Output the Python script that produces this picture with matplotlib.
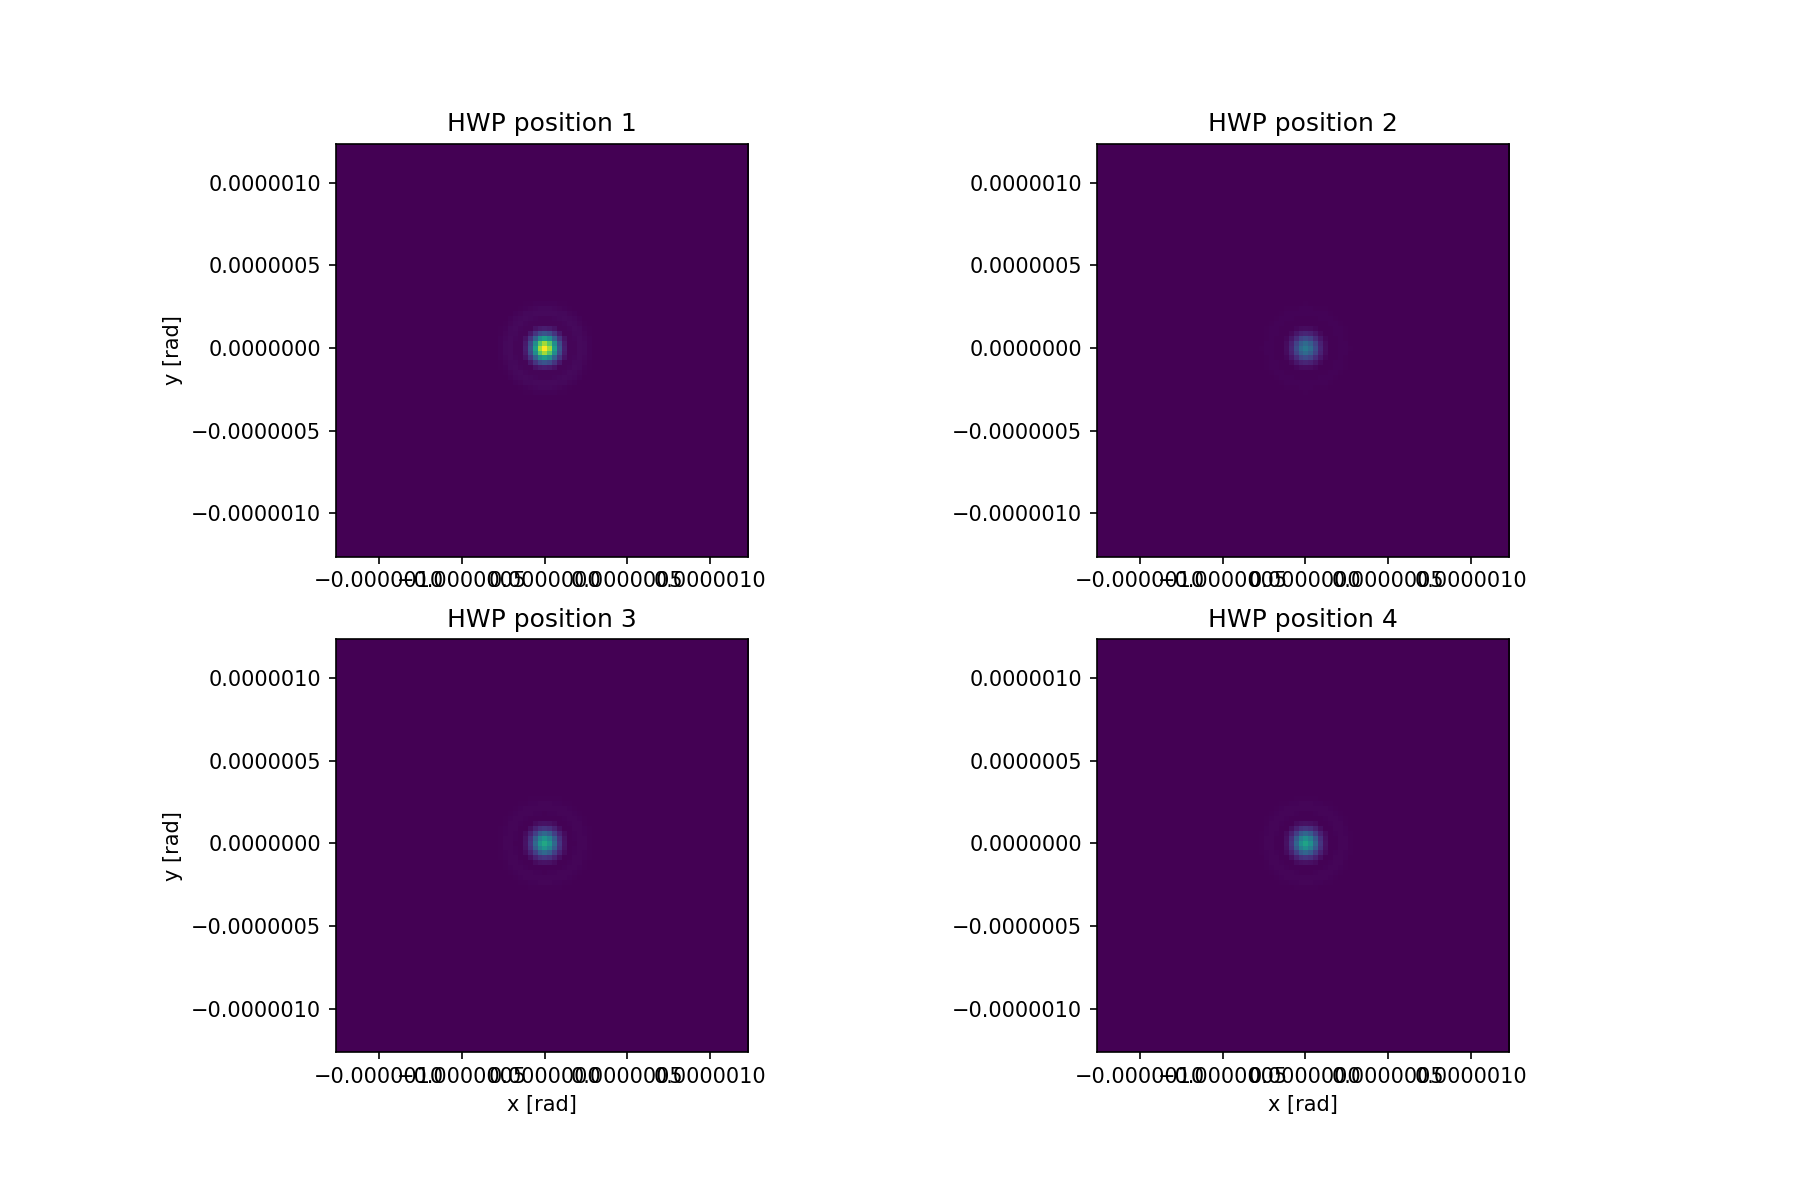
import matplotlib
matplotlib.use('Agg')
import matplotlib.pyplot as plt
import numpy as np

# panel titles and relative peak intensity (shared colour scale)
titles = ['HWP position 1', 'HWP position 2', 'HWP position 3', 'HWP position 4']
peaks = [1.0, 0.40, 0.60, 0.58]

# radial profile of the spot (radius in image pixels)
radius_px = [0, 1, 2, 3, 4, 5, 6, 7, 8, 9, 10, 12]
profile = [1.0, 0.86, 0.56, 0.26, 0.08, 0.012, 0.012, 0.025, 0.022, 0.01, 0.003, 0.0]

# image grid
npix = 84
half_width = 1.25e-6  # rad
dx = 2 * half_width / npix

idx = np.arange(npix) - npix // 2
ii, jj = np.meshgrid(idx, idx)
rr = np.hypot(ii, jj)
spot = np.interp(rr, radius_px, profile)

ext = [(-npix // 2 - 0.5) * dx, (npix // 2 - 0.5) * dx,
       (-npix // 2 - 0.5) * dx, (npix // 2 - 0.5) * dx]

fig, ax = plt.subplots(2, 2, figsize=(12, 8), dpi=150)
fig.subplots_adjust(bottom=0.123)
ax = ax.ravel()
for k in range(4):
    ax[k].imshow(spot * peaks[k], origin='lower', extent=ext,
                 cmap='viridis', vmin=0, vmax=1, interpolation='nearest')
    ax[k].set_title(titles[k])
    ax[k].ticklabel_format(style='plain', useOffset=False)
    ax[k].set_xticks([-1e-6, -0.5e-6, 0, 0.5e-6, 1e-6])
    ax[k].set_yticks([-1e-6, -0.5e-6, 0, 0.5e-6, 1e-6])

ax[0].set_ylabel('y [rad]')
ax[2].set_ylabel('y [rad]')
ax[2].set_xlabel('x [rad]')
ax[3].set_xlabel('x [rad]')

plt.savefig('out.png')
